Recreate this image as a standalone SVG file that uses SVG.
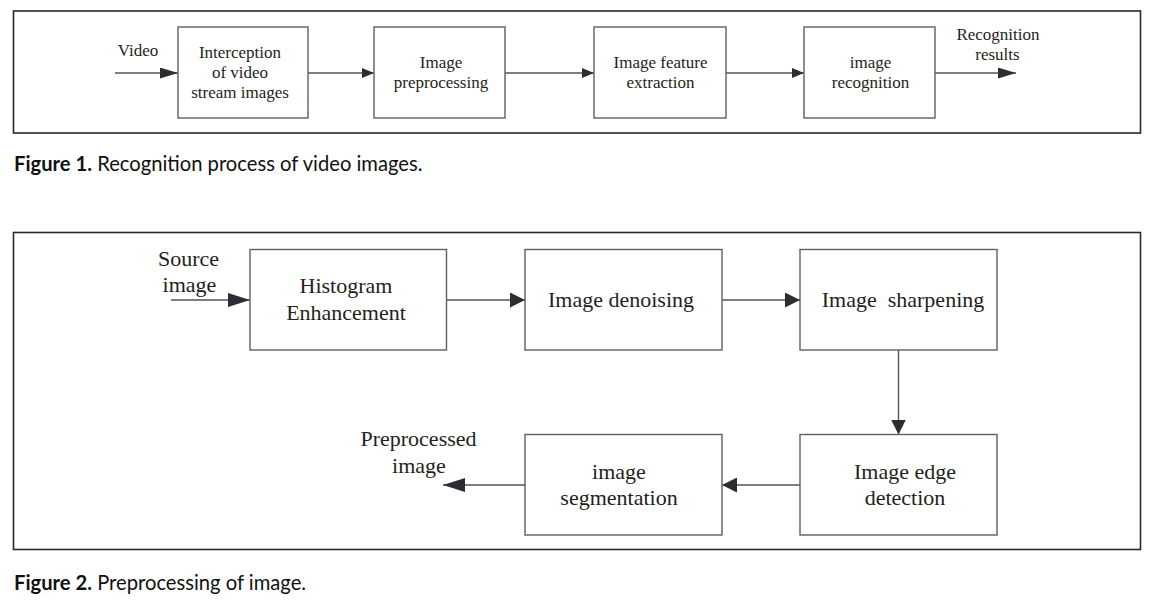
<svg xmlns="http://www.w3.org/2000/svg" width="1158" height="605" viewBox="0 0 1158 605">
<style>
.frame{fill:none;stroke:#2a2a2a;stroke-width:1.6}
.box{fill:#fff;stroke:#606060;stroke-width:1.4}
.line{fill:none;stroke:#555;stroke-width:1.4}
.t1{font-family:"Liberation Serif","Times New Roman",serif;font-size:17px;fill:#231f20;text-anchor:middle}
.t2{font-family:"Liberation Serif","Times New Roman",serif;font-size:22px;fill:#231f20;text-anchor:middle}
.cap{font-family:Lato,"Open Sans",sans-serif;font-size:20.2px;fill:#111}
.capb{font-weight:bold}
</style>
<defs>
<marker id="a1s" markerUnits="userSpaceOnUse" markerWidth="12" markerHeight="10" refX="12" refY="5" orient="auto"><path d="M0,0 L12,5 L0,10 Z" fill="#2b2d33"/></marker>
<marker id="a1l" markerUnits="userSpaceOnUse" markerWidth="18" markerHeight="11" refX="18" refY="5.5" orient="auto"><path d="M0,0 L18,5.5 L0,11 Z" fill="#2b2d33"/></marker>
<marker id="a2s" markerUnits="userSpaceOnUse" markerWidth="15" markerHeight="15" refX="15" refY="7.5" orient="auto"><path d="M0,0 L15,7.5 L0,15 Z" fill="#2b2d33"/></marker>
<marker id="a2l" markerUnits="userSpaceOnUse" markerWidth="22" markerHeight="14" refX="22" refY="7" orient="auto"><path d="M0,0 L22,7 L0,14 Z" fill="#2b2d33"/></marker>
</defs>
<rect width="1158" height="605" fill="#fff"/>

<g id="figure1-frame"><rect class="frame" x="13.5" y="11" width="1127" height="122"/></g>
<g id="figure2-frame"><rect class="frame" x="13.5" y="232.5" width="1127" height="317"/></g>

<g id="connectors">
<line class="line" x1="115" y1="73" x2="178" y2="73" marker-end="url(#a1l)"/>
<line class="line" x1="308" y1="73" x2="374" y2="73" marker-end="url(#a1s)"/>
<line class="line" x1="505" y1="73" x2="594" y2="73" marker-end="url(#a1s)"/>
<line class="line" x1="726" y1="73" x2="804" y2="73" marker-end="url(#a1s)"/>
<line class="line" x1="935" y1="73" x2="1016" y2="73" marker-end="url(#a1l)"/>
<line class="line" x1="171" y1="300" x2="250" y2="300" marker-end="url(#a2l)"/>
<line class="line" x1="446.5" y1="300" x2="525" y2="300" marker-end="url(#a2s)"/>
<line class="line" x1="722" y1="300" x2="800" y2="300" marker-end="url(#a2s)"/>
<line class="line" x1="898.5" y1="350" x2="898.5" y2="434.5" marker-end="url(#a2s)"/>
<line class="line" x1="800" y1="485" x2="722" y2="485" marker-end="url(#a2s)"/>
<line class="line" x1="525" y1="485" x2="443" y2="485" marker-end="url(#a2l)"/>
</g>

<g id="label-video"><text class="t1" x="138" y="56">Video</text></g>
<g id="node-interception">
<rect class="box" x="178" y="27" width="130" height="91"/>
<text class="t1" x="240" y="58">Interception</text>
<text class="t1" x="240" y="78">of video</text>
<text class="t1" x="240" y="98">stream images</text>
</g>
<g id="node-preprocessing">
<rect class="box" x="374" y="27" width="131" height="91"/>
<text class="t1" x="441" y="68">Image</text>
<text class="t1" x="441" y="88">preprocessing</text>
</g>
<g id="node-feature">
<rect class="box" x="594" y="27" width="132" height="91"/>
<text class="t1" x="660.5" y="68">Image feature</text>
<text class="t1" x="660.5" y="88">extraction</text>
</g>
<g id="node-recognition">
<rect class="box" x="804" y="27" width="131" height="91"/>
<text class="t1" x="870.5" y="68">image</text>
<text class="t1" x="870.5" y="88">recognition</text>
</g>
<g id="label-results">
<text class="t1" x="998" y="40">Recognition</text>
<text class="t1" x="997.5" y="60">results</text>
</g>
<g id="caption1"><text class="cap" x="14" y="171"><tspan class="capb">Figure 1.</tspan> Recognition process of video images.</text></g>

<g id="label-source">
<text class="t2" x="188.5" y="266">Source</text>
<text class="t2" x="189.5" y="292">image</text>
</g>
<g id="node-histogram">
<rect class="box" x="250" y="249.5" width="196.5" height="100.5"/>
<text class="t2" x="346" y="293">Histogram</text>
<text class="t2" x="346" y="320">Enhancement</text>
</g>
<g id="node-denoising">
<rect class="box" x="525" y="249.5" width="197" height="100.5"/>
<text class="t2" x="621" y="307">Image denoising</text>
</g>
<g id="node-sharpening">
<rect class="box" x="800" y="249.5" width="197" height="100.5"/>
<text class="t2" x="903" y="307" xml:space="preserve">Image  sharpening</text>
</g>
<g id="node-edge">
<rect class="box" x="800" y="434.5" width="197" height="100.5"/>
<text class="t2" x="905" y="478.5">Image edge</text>
<text class="t2" x="905" y="505">detection</text>
</g>
<g id="node-segmentation">
<rect class="box" x="525" y="434.5" width="197" height="100.5"/>
<text class="t2" x="619" y="478.5">image</text>
<text class="t2" x="619" y="505">segmentation</text>
</g>
<g id="label-preprocessed">
<text class="t2" x="418.5" y="446">Preprocessed</text>
<text class="t2" x="419" y="472.5">image</text>
</g>
<g id="caption2"><text class="cap" x="14" y="590"><tspan class="capb">Figure 2.</tspan> Preprocessing of image.</text></g>
</svg>
